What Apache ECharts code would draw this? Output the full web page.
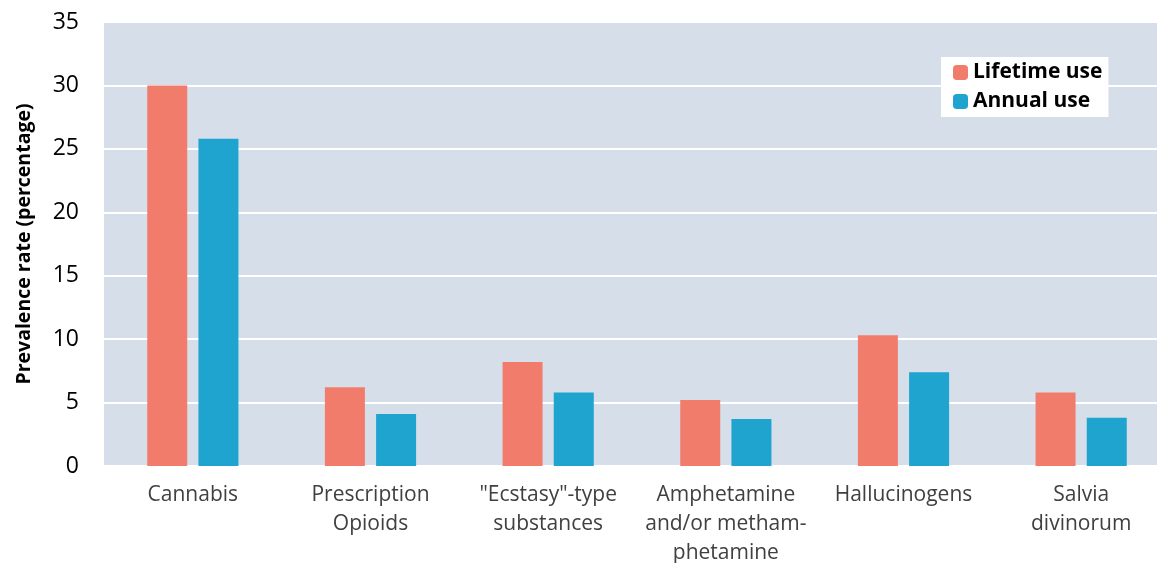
<!DOCTYPE html>
<html>
<head>
<meta charset="utf-8">
<script src="https://cdn.jsdelivr.net/npm/echarts@6/dist/echarts.min.js"></script>
<style>
  html, body { margin: 0; padding: 0; background: #fff; }
  #chart { width: 1157px; height: 563px; }
</style>
</head>
<body>
<div id="chart"></div>
<script>
  // categories and values
  const categories = ['Cannabis', 'Prescription\nOpioids', '"Ecstasy"-type\nsubstances',
    'Amphetamine\nand/or metham-\nphetamine', 'Hallucinogens', 'Salvia\ndivinorum'];
  const lifetimeUse = [30.0, 6.2, 8.2, 5.2, 10.3, 5.8];
  const annualUse = [25.8, 4.1, 5.8, 3.7, 7.4, 3.8];
  const seriesNames = ['Lifetime use', 'Annual use'];

  const chart = echarts.init(document.getElementById('chart'));
  chart.setOption({
    animation: false,
    color: ['#F27C6C', '#1FA3CF'],
    textStyle: { fontFamily: 'Open Sans' },
    grid: {
      left: 104, width: 1066, top: 22, bottom: 97,
      outerBoundsMode: 'none',
      show: true, backgroundColor: '#D6DEE9', borderWidth: 0
    },
    legend: {
      data: seriesNames,
      orient: 'vertical',
      left: 941, top: 57,
      backgroundColor: '#fff',
      padding: [5, 6, 5, 12],
      itemWidth: 15, itemHeight: 15, itemGap: 8,
      textStyle: { fontSize: 21, fontWeight: 'bold', color: '#000', fontFamily: 'Open Sans' }
    },
    xAxis: {
      type: 'category',
      data: categories,
      axisLine: { show: false },
      axisTick: { show: false },
      axisLabel: { fontSize: 21, color: '#404040', lineHeight: 29, margin: 15, interval: 0 }
    },
    yAxis: {
      type: 'value',
      min: 0, max: 35, interval: 5,
      name: 'Prevalence rate (percentage)',
      nameLocation: 'middle',
      nameGap: 70,
      nameTextStyle: { fontSize: 19.5, fontWeight: 'bold', color: '#000' },
      axisLine: { show: false },
      axisTick: { show: false },
      axisLabel: { fontSize: 23, color: '#000', margin: 25 },
      splitLine: { lineStyle: { color: '#fff', width: 2 } }
    },
    series: [
      { name: seriesNames[0], type: 'bar', data: lifetimeUse, barWidth: 40, barGap: '28%' },
      { name: seriesNames[1], type: 'bar', data: annualUse, barWidth: 40, barGap: '28%' }
    ]
  });
</script>
</body>
</html>
